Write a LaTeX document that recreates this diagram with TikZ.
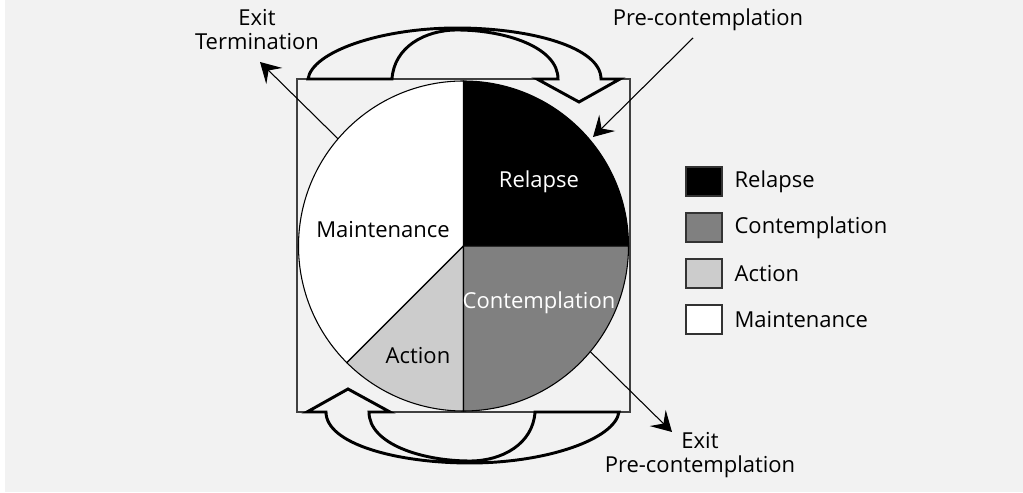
\documentclass[tikz,border=0pt]{standalone}
\usepackage{fontspec}
\setmainfont{Open Sans}
\usepackage{xcolor}
\usetikzlibrary{arrows.meta}
\definecolor{bg}{HTML}{F2F2F2}
\definecolor{contgray}{HTML}{808080}
\definecolor{actgray}{HTML}{CCCCCC}

\begin{document}
\begin{tikzpicture}[x=0.75pt,y=0.75pt,
	every node/.style={font=\fontsize{16.5}{18}\selectfont,inner sep=1pt},
	twoline/.style={align=center},
	pointer/.style={line width=0.8pt,-{Stealth[length=15pt,width=17pt,inset=6pt]}},
	blockarrow/.style={line width=2.2pt,fill=bg,line join=miter},
	keybox/.style={draw=black!80,line width=1pt,minimum width=27pt,minimum height=21.75pt,inner sep=0pt}]
	% canvas
	\fill[white] (0,0) rectangle (1023,492);
	\fill[bg] (5,0) rectangle (1023,492);
	\useasboundingbox (0,0) rectangle (1023,492);

	% frame and pie
	\draw[line width=1pt,draw=black!75] (297,80) rectangle (630,413);
	\coordinate (C) at (463.5,246);
	\filldraw[fill=black,line width=0.8pt] (C) -- ++(0:165) arc[start angle=0,end angle=90,radius=123.75pt] -- cycle;
	\filldraw[fill=white,line width=0.8pt] (C) -- ++(90:165) arc[start angle=90,end angle=225,radius=123.75pt] -- cycle;
	\filldraw[fill=actgray,line width=0.8pt] (C) -- ++(225:165) arc[start angle=225,end angle=270,radius=123.75pt] -- cycle;
	\filldraw[fill=contgray,line width=0.8pt] (C) -- ++(270:165) arc[start angle=270,end angle=360,radius=123.75pt] -- cycle;

	\node[text=white] (relapse) at (539,310) {Relapse};
	\node (maint) at (383,262) {Maintenance};
	\node[text=white] (contemp) at (539,189) {Contemplation};
	\node (action) at (418,136) {Action};

	% turning arrows, top and bottom
	\foreach \rot in {0,180}{
		\begin{scope}[rotate around={\rot:(463.5,246.5)}]
			\filldraw[blockarrow] (308,413) .. controls (312,440) and (380,464) .. (457,464)
				.. controls (530,464) and (601,445) .. (601,413) -- (620,413) -- (579,390) -- (537,413) -- (558,413)
				.. controls (558,445) and (505,462) .. (457,462)
				.. controls (425,462) and (394,445) .. (392,413) -- cycle;
		\end{scope}
	}

	% outer labels and pointers
	\node[twoline] (exitterm) at (257,462) {Exit\\Termination};
	\node (precon) at (708,472) {Pre-contemplation};
	\node[twoline] (exitpre) at (700,36.5) {Exit\\Pre-contemplation};

	\coordinate (termtip) at (260,430);
	\coordinate (precontail) at (693,454);
	\coordinate (precontip) at (593,355);
	\coordinate (exittip) at (672,60);
	\draw[pointer] (C) ++(139.5:165) -- (termtip);
	\draw[pointer] (precontail) -- (precontip);
	\draw[pointer] (C) ++(-39.8:165) -- (exittip);

	% legend
	\foreach \name/\col [count=\i] in {Relapse/black,Contemplation/contgray,Action/actgray,Maintenance/white}{
		\node[keybox,fill=\col] (key\i) at (704,{356.5-46*\i}) {};
		\node[anchor=west] (keytext\i) at (733,{356.5-46*\i}) {\name};
	}
\end{tikzpicture}
\end{document}
